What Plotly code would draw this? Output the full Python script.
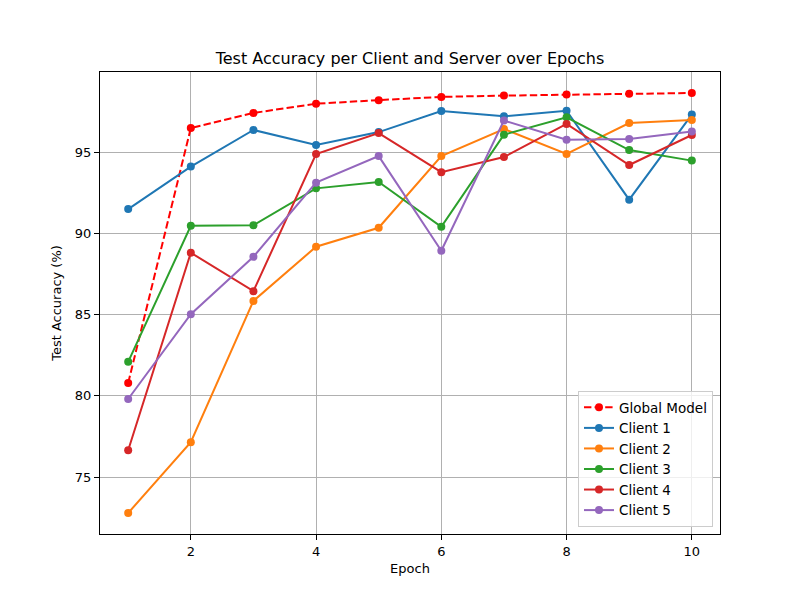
import plotly.graph_objects as go

epochs = [1, 2, 3, 4, 5, 6, 7, 8, 9, 10]
global_model = [80.8, 96.52, 97.45, 98.02, 98.24, 98.44, 98.52, 98.58, 98.64, 98.68]
client_1 = [91.52, 94.14, 96.40, 95.47, 96.27, 97.57, 97.24, 97.59, 92.10, 97.35]
client_2 = [72.78, 77.15, 85.86, 89.20, 90.37, 94.79, 96.46, 94.92, 96.83, 97.02]
client_3 = [82.10, 90.49, 90.53, 92.80, 93.19, 90.43, 96.11, 97.18, 95.16, 94.51]
client_4 = [76.65, 88.83, 86.46, 94.92, 96.21, 93.80, 94.73, 96.77, 94.24, 96.09]
client_5 = [79.81, 85.04, 88.58, 93.15, 94.79, 88.95, 96.98, 95.80, 95.84, 96.30]

x_ticks = [2, 4, 6, 8, 10]
y_ticks = [75, 80, 85, 90, 95]

clients = [
    ("Client 1", client_1, "#1f77b4"),
    ("Client 2", client_2, "#ff7f0e"),
    ("Client 3", client_3, "#2ca02c"),
    ("Client 4", client_4, "#d62728"),
    ("Client 5", client_5, "#9467bd"),
]

fig = go.Figure()
fig.add_trace(go.Scatter(
    x=epochs, y=global_model, name="Global Model", mode="lines+markers",
    line=dict(color="red", width=2, dash="7.4px,3.2px"),
    marker=dict(color="red", size=8),
))
for name, vals, col in clients:
    fig.add_trace(go.Scatter(
        x=epochs, y=vals, name=name, mode="lines+markers",
        line=dict(color=col, width=2),
        marker=dict(color=col, size=8),
    ))

axis_common = dict(
    showgrid=True, gridcolor="#b0b0b0", gridwidth=1,
    showline=True, linecolor="black", linewidth=1, mirror=True,
    ticks="outside", ticklen=5, tickcolor="black", tickwidth=1,
    zeroline=False, tickfont=dict(size=13, color="black"),
)

# page body has an 8px margin, so the figure is sized/offset to compensate
fig.update_layout(
    width=792, height=592,
    margin=dict(l=92, r=80, t=64, b=66),
    paper_bgcolor="white", plot_bgcolor="white",
    font=dict(family="DejaVu Sans", color="black"),
    title=dict(text="Test Accuracy per Client and Server over Epochs",
               x=0.5, xanchor="center", xref="paper",
               y=1 - 50 / 592, yanchor="middle", font=dict(size=16)),
    xaxis=dict(range=[0.55, 10.45], tickvals=x_ticks,
               title=dict(text="Epoch", font=dict(size=13), standoff=6),
               **axis_common),
    yaxis=dict(range=[71.485, 99.975], tickvals=y_ticks,
               title=dict(text="Test Accuracy (%)", font=dict(size=13), standoff=10),
               **axis_common),
    legend=dict(x=0.9887, y=0.015, xanchor="right", yanchor="bottom",
                bgcolor="rgba(255,255,255,0.8)", bordercolor="#cccccc", borderwidth=1,
                font=dict(size=13.5), tracegroupgap=0),
    showlegend=True,
)

fig.write_html("out.html")
